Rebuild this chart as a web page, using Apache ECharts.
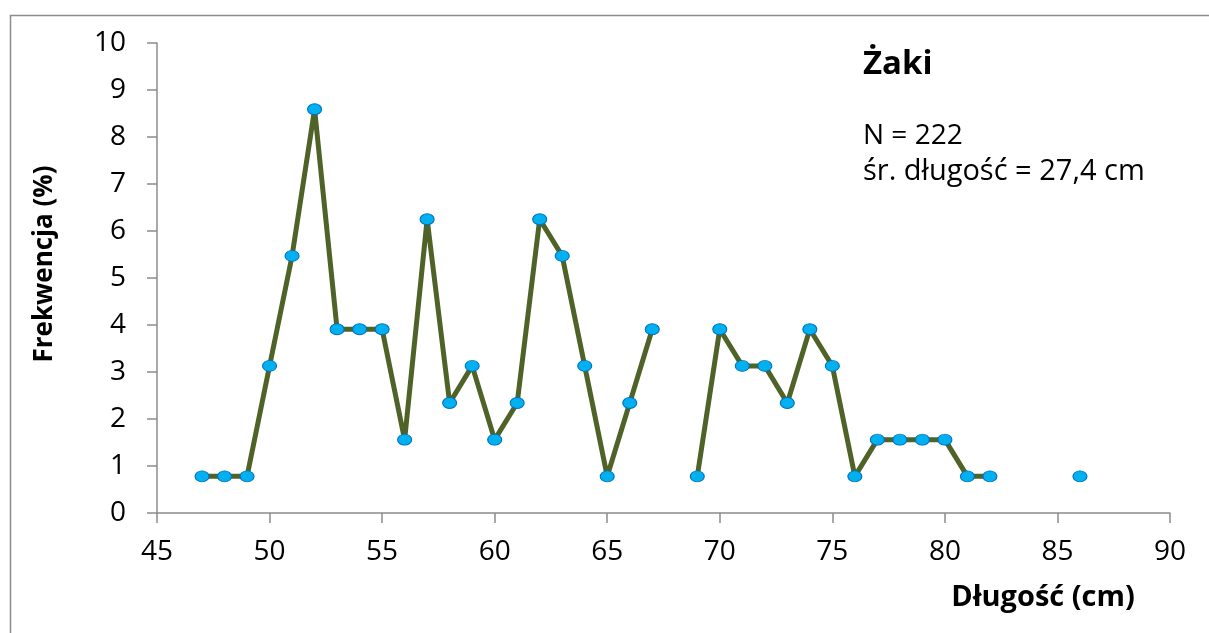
<!DOCTYPE html>
<html><head><meta charset="utf-8">
<script src="https://cdn.jsdelivr.net/npm/echarts@6/dist/echarts.min.js"></script>
<style>html,body{margin:0;padding:0;background:#fff}#c{width:1209px;height:633px}</style>
</head><body><div id="c"></div>
<script>
const lengths = [47,48,49,50,51,52,53,54,55,56,57,58,59,60,61,62,63,64,65,66,67,68,69,70,71,72,73,74,75,76,77,78,79,80,81,82,83,84,85,86];
const freq = [0.78,0.78,0.78,3.13,5.47,8.59,3.91,3.91,3.91,1.56,6.25,2.34,3.13,1.56,2.34,6.25,5.47,3.13,0.78,2.34,3.91,null,0.78,3.91,3.13,3.13,2.34,3.91,3.13,0.78,1.56,1.56,1.56,1.56,0.78,0.78,null,null,null,0.78];
const titleText = 'Żaki';
const infoLines = ['N = 222', 'śr. długość = 27,4 cm'];
const xName = 'Długość (cm)';
const yName = 'Frekwencja (%)';

const FONT = '"Open Sans", "Noto Sans", sans-serif';
const chart = echarts.init(document.getElementById('c'));
chart.setOption({
  animation: false,
  backgroundColor: '#fff',
  graphic: [
    {type:'rect', left:8, top:13, shape:{x:0,y:0,width:1400,height:800}, style:{fill:'none', stroke:'#8c8c8c', lineWidth:1.5}, silent:true, z:-1},
    {type:'text', x:863, y:65, style:{text:titleText, font:'bold 33px ' + FONT, fill:'#000', verticalAlign:'middle'}},
    {type:'text', x:863, y:136, style:{text:infoLines[0], font:'28px ' + FONT, fill:'#000', verticalAlign:'middle'}},
    {type:'text', x:863, y:172, style:{text:infoLines[1], font:'29px ' + FONT, fill:'#000', verticalAlign:'middle'}},
    {type:'text', x:1043, y:598, style:{text:xName, font:'bold 29px ' + FONT, fill:'#000', align:'center', verticalAlign:'middle'}},
    {type:'text', x:45, y:264, rotation:Math.PI/2, style:{text:yName, font:'bold 26px ' + FONT, fill:'#000', align:'center', verticalAlign:'middle'}}
  ],
  grid: {left:157, right:39, top:43, bottom:120, containLabel:false},
  xAxis: {
    type:'value', min:45, max:90, interval:5,
    axisLine:{show:true, lineStyle:{color:'#8c8c8c', width:1.5}},
    axisTick:{show:true, length:10, lineStyle:{color:'#8c8c8c', width:1.5}},
    axisLabel:{color:'#000', fontSize:28, fontFamily:FONT, margin:25},
    splitLine:{show:false}
  },
  yAxis: {
    type:'value', min:0, max:10, interval:1,
    axisLine:{show:true, lineStyle:{color:'#8c8c8c', width:1.5}},
    axisTick:{show:true, length:10, lineStyle:{color:'#8c8c8c', width:1.5}},
    axisLabel:{color:'#000', fontSize:28, fontFamily:FONT, margin:31},
    splitLine:{show:false}
  },
  series: [{
    type:'line',
    data: lengths.map((x,i)=>[x, freq[i]]),
    connectNulls:false,
    showAllSymbol:true,
    symbol:'circle', symbolSize:[14,11],
    lineStyle:{color:'#4F6228', width:5},
    itemStyle:{color:'#00B0F0', borderColor:'#0070C0', borderWidth:1},
    z:3
  }]
});
</script></body></html>
